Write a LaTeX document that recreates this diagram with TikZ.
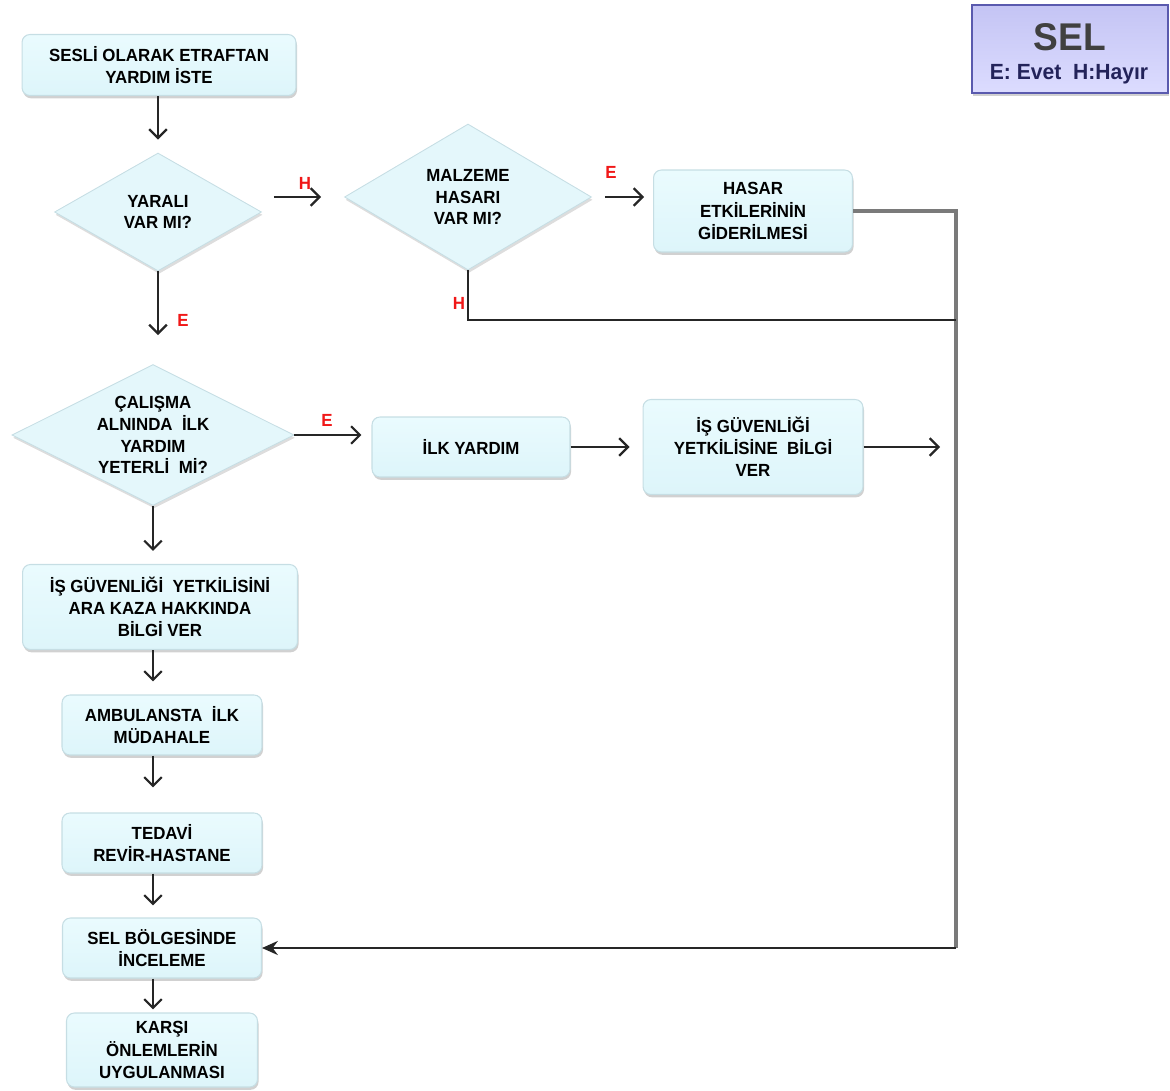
\documentclass[tikz,border=0pt]{standalone}
\usepackage{fontspec}
\setmainfont{Liberation Sans}[FakeStretch=0.96]
\usetikzlibrary{arrows.meta,shapes.geometric,shadows}
\definecolor{cyanT}{HTML}{EAFBFE}
\definecolor{cyanB}{HTML}{DDF5FA}
\definecolor{boxline}{HTML}{C6DEE4}
\definecolor{lavT}{HTML}{C4C4F4}
\definecolor{lavB}{HTML}{DCDCFF}
\definecolor{lavline}{HTML}{5A5AAE}
\definecolor{navy}{HTML}{23235A}
\definecolor{gline}{HTML}{7A7A7A}
\definecolor{lblred}{HTML}{F01818}
\tikzset{
  x=0.02cm, y=-0.02cm,
  boxstyle/.style={rectangle, rounded corners=4.5pt, draw=boxline, line width=0.6pt,
    top color=cyanT, bottom color=cyanB, align=center, inner sep=0pt,
    font=\bfseries\fontsize{10}{12.6}\selectfont, text=black,
    drop shadow={shadow xshift=0.6pt, shadow yshift=-1.6pt, opacity=0.3, fill=black!60}},
  diastyle/.style={diamond, draw=boxline, line width=0.5pt, fill=cyanB!80!white, inner sep=0pt,
    drop shadow={shadow xshift=0.6pt, shadow yshift=-1.6pt, opacity=0.22, fill=black!60}},
  diatext/.style={align=center, inner sep=0pt, font=\bfseries\fontsize{10}{12.4}\selectfont, text=black},
  arr/.style={draw=black!85, line width=1.3pt, -{Straight Barb[length=5pt,width=10pt,line width=1.3pt]}},
  plainline/.style={draw=black!85, line width=1.3pt},
  grayline/.style={draw=gline, line width=1.8pt},
  lbl/.style={text=lblred, font=\bfseries\fontsize{10}{12}\selectfont, inner sep=0pt},
}
\begin{document}
\begin{tikzpicture}
\useasboundingbox (0,0) rectangle (1170,1091);
% boxes
\node[boxstyle, minimum width=5.48cm, minimum height=1.22cm] (b1) at (159,65) {SESLİ OLARAK ETRAFTAN\\YARDIM İSTE};
\node[boxstyle, minimum width=3.98cm, minimum height=1.64cm] (hasar) at (753,211) {HASAR\\ETKİLERİNİN\\GİDERİLMESİ};
\node[boxstyle, minimum width=3.96cm, minimum height=1.2cm] (ilk) at (471,447) {İLK YARDIM};
\node[boxstyle, minimum width=4.4cm, minimum height=1.9cm] (bilgi) at (753,447) {İŞ GÜVENLİĞİ\\YETKİLİSİNE\ \ BİLGİ\\VER};
\node[boxstyle, minimum width=5.5cm, minimum height=1.7cm] (b5) at (160,607) {İŞ GÜVENLİĞİ\ \ YETKİLİSİNİ\\ARA KAZA HAKKINDA\\BİLGİ VER};
\node[boxstyle, minimum width=4.0cm, minimum height=1.2cm] (amb) at (162,725) {AMBULANSTA\ \ İLK\\MÜDAHALE};
\node[boxstyle, minimum width=4.0cm, minimum height=1.2cm] (ted) at (162,843) {TEDAVİ\\REVİR-HASTANE};
\node[boxstyle, minimum width=3.98cm, minimum height=1.2cm] (sel) at (162,948) {SEL BÖLGESİNDE\\İNCELEME};
\node[boxstyle, minimum width=3.82cm, minimum height=1.48cm] (kar) at (162,1050) {KARŞI\\ÖNLEMLERİN\\UYGULANMASI};
% diamonds
\node[diastyle, minimum width=4.14cm, minimum height=2.36cm] (d1) at (158,212) {};
\node[diatext] (d1t) at (d1) {YARALI\\VAR MI?};
\node[diastyle, minimum width=4.94cm, minimum height=2.92cm] (d2) at (468,197) {};
\node[diatext] (d2t) at (d2) {MALZEME\\HASARI\\VAR MI?};
\node[diastyle, minimum width=5.64cm, minimum height=2.82cm] (d3) at (153,435) {};
\node[diatext] (d3t) at (d3) {ÇALIŞMA\\ALNINDA\ \ İLK\\YARDIM\\YETERLİ\ \ Mİ?};
% legend
\node[rectangle, draw=lavline, line width=1.1pt, top color=lavT, bottom color=lavB,
  minimum width=3.92cm, minimum height=1.76cm, inner sep=0pt,
  drop shadow={shadow xshift=0.6pt, shadow yshift=-1.6pt, opacity=0.3, fill=black!60}] (leg) at (1070,49) {};
\node[font=\bfseries\fontsize{22}{24}\selectfont, text=black!75, inner sep=0pt] (legt) at (1070,37) {SEL};
\node[font=\bfseries\fontsize{12.5}{14}\selectfont, text=navy, inner sep=0pt] (legs) at (1069,74) {E: Evet\ \ H:Hayır};
% coordinates
\coordinate (c1) at (956,211);
\coordinate (c2) at (956,948);
\coordinate (c3) at (956,320);
\coordinate (c4) at (468,320);
\coordinate (cfree) at (940,447);
% connectors
\draw[arr, shorten >=0.26cm] (b1.south -| d1.north) -- (d1.north);
\draw[arr, shorten <=0.24cm, shorten >=0.46cm] (d1.east |- d2.west) -- (d2.west);
\draw[arr, shorten <=0.26cm, shorten >=0.18cm] (d2.east) -- (d2.east -| hasar.west);
\draw[grayline] (hasar.east) -- (c1) -- (c2);
\draw[plainline, -{Stealth[length=9pt,width=8pt]}] (c2) -- (sel.east);
\draw[plainline] (d2.south) -- (c4) -- (c3);
\draw[arr, shorten >=0.58cm] (d1.south) -- (d1.south |- d3.north);
\draw[arr, shorten >=0.2cm] (d3.east) -- (d3.east -| ilk.west);
\draw[arr, shorten >=0.26cm] (ilk.east) -- (bilgi.west);
\draw[arr] (bilgi.east) -- (cfree);
\draw[arr, shorten >=0.26cm] (d3.south) -- (d3.south |- b5.north);
\draw[arr, shorten >=0.26cm] (b5.south -| d3.south) -- (amb.north -| d3.south);
\draw[arr, shorten >=0.5cm] (amb.south -| d3.south) -- (ted.north -| d3.south);
\draw[arr, shorten >=0.24cm] (ted.south -| d3.south) -- (sel.north -| d3.south);
\draw[arr, shorten >=0.06cm] (sel.south -| d3.south) -- (kar.north -| d3.south);
% labels
\node[lbl] (l1) at (305,183) {H};
\node[lbl] (l2) at (611,172) {E};
\node[lbl] (l3) at (459,303) {H};
\node[lbl] (l4) at (183,320) {E};
\node[lbl] (l5) at (327,420) {E};
\end{tikzpicture}
\end{document}
